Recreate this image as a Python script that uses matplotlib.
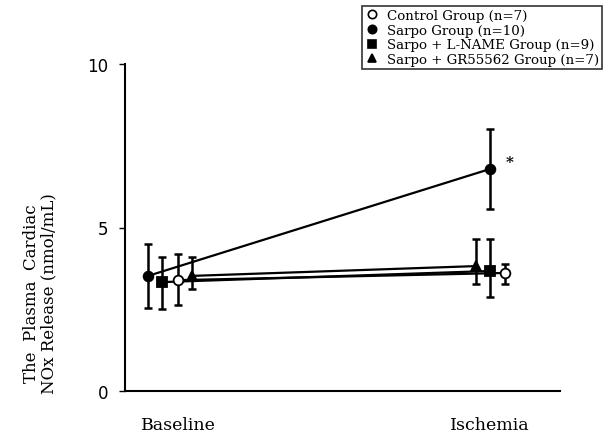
import matplotlib
matplotlib.use("Agg")
from matplotlib import pyplot as plt
from matplotlib.lines import Line2D

# data
timepoints = ["Baseline", "Ischemia"]
groups = ["Control Group (n=7)", "Sarpo Group (n=10)",
          "Sarpo + L-NAME Group (n=9)", "Sarpo + GR55562 Group (n=7)"]
means = {
    "control": [3.39, 3.61],
    "sarpo": [3.52, 6.79],
    "lname": [3.33, 3.67],
    "gr": [3.52, 3.82],
}
err_low = {
    "control": [0.76, 0.34],
    "sarpo": [0.98, 1.22],
    "lname": [0.82, 0.80],
    "gr": [0.40, 0.55],
}
err_high = {
    "control": [0.80, 0.27],
    "sarpo": [0.98, 1.22],
    "lname": [0.77, 0.98],
    "gr": [0.58, 0.83],
}

# horizontal dodge of each group at the two time points
dodge = {
    "control": [0.0, 0.048],
    "sarpo": [-0.096, 0.0],
    "lname": [-0.051, 0.0],
    "gr": [0.045, -0.045],
}
markers = {"control": "o", "sarpo": "o", "lname": "s", "gr": "^"}
faces = {"control": "white", "sarpo": "black", "lname": "black", "gr": "black"}
order = ["sarpo", "lname", "gr", "control"]

fig = plt.figure(figsize=(6.14, 4.39), dpi=100)
ax = fig.add_axes([125 / 614, 47 / 439, 435 / 614, 327 / 439])

for key in order:
    xs = [i + d for i, d in enumerate(dodge[key])]
    ax.plot(xs, means[key], color="black", lw=1.6, zorder=2)
    ax.errorbar(xs, means[key], yerr=[err_low[key], err_high[key]], fmt="none",
                ecolor="black", elinewidth=1.8, capsize=3, capthick=1.8, zorder=3)
    ax.plot(xs, means[key], linestyle="none", marker=markers[key], ms=7,
            mfc=faces[key], mec="black", mew=1.3, zorder=4)

ax.text(1.064, 7.0, "*", fontsize=11, fontweight="bold",
        family="DejaVu Serif", ha="center", va="center")

ax.set_xlim(-0.170, 1.224)
ax.set_ylim(0, 10)
ax.set_yticks([0, 5, 10])
ax.set_yticklabels(["0", "5", "10"], fontsize=12, family="DejaVu Sans")
ax.tick_params(axis="y", length=4, width=1, direction="out", pad=8)
ax.set_xticks([0, 1])
ax.set_xticklabels(timepoints, fontsize=12.5, family="DejaVu Serif")
ax.tick_params(axis="x", length=0, pad=18)
for s in ["top", "right"]:
    ax.spines[s].set_visible(False)
ax.spines["left"].set_linewidth(1.5)
ax.spines["bottom"].set_linewidth(1.5)

ax.set_ylabel("The  Plasma  Cardiac\nNOx Release (nmol/mL)", fontsize=12,
              family="DejaVu Serif", linespacing=1.0)
ax.yaxis.set_label_coords(-0.156, 0.30)

handles = [Line2D([], [], linestyle="none", marker=markers[k], mfc=faces[k],
                  mec="black", mew=1.2, ms=6)
           for k in ["control", "sarpo", "lname", "gr"]]
leg = fig.legend(handles, groups, loc="upper right", bbox_to_anchor=(0.992, 1.0),
                 prop={"family": "DejaVu Serif", "size": 9.6}, frameon=True,
                 fancybox=False, edgecolor="black", handlelength=1.0,
                 handletextpad=0.6, borderpad=0.25, labelspacing=0.12)
leg.get_frame().set_linewidth(1.2)

fig.savefig("out.png", dpi=100)
